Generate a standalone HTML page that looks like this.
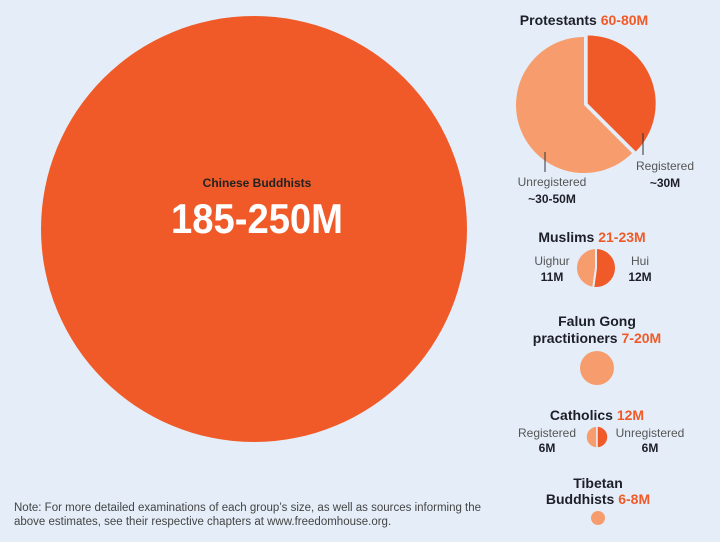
<!DOCTYPE html>
<html><head><meta charset="utf-8">
<style>
html,body{margin:0;padding:0;background:#e5eef8;}
svg{display:block;font-family:"Liberation Sans",sans-serif;}
.t{font-weight:bold;fill:#1e1e28;font-size:14px;}
.n{fill:#f05a28;}
.l{fill:#555;font-size:12px;}
.v{font-weight:bold;fill:#1e1e28;font-size:12px;}
</style></head>
<body>
<svg id="chart" width="720" height="542" viewBox="0 0 720 542" xmlns="http://www.w3.org/2000/svg">
<rect width="720" height="542" fill="#e5eef8"/>
<g id="marks"></g>
<g>
<text x="257" y="187" text-anchor="middle" style="font-weight:bold;font-size:12px;fill:#222">Chinese Buddhists</text>
<text x="257" y="233" text-anchor="middle" textLength="172" lengthAdjust="spacingAndGlyphs" style="font-weight:bold;font-size:42px;fill:#fff">185-250M</text>

<text x="584" y="25" text-anchor="middle" class="t">Protestants <tspan class="n">60-80M</tspan></text>
<line x1="545" y1="152" x2="545" y2="172" stroke="#333" stroke-width="1"/>
<text x="552" y="186" text-anchor="middle" class="l">Unregistered</text>
<text x="552" y="203" text-anchor="middle" class="v">~30-50M</text>
<line x1="643" y1="133" x2="643" y2="155" stroke="#333" stroke-width="1"/>
<text x="665" y="170" text-anchor="middle" class="l">Registered</text>
<text x="665" y="187" text-anchor="middle" class="v">~30M</text>

<text x="592" y="242" text-anchor="middle" class="t">Muslims <tspan class="n">21-23M</tspan></text>
<text x="552" y="265" text-anchor="middle" class="l">Uighur</text>
<text x="552" y="281" text-anchor="middle" class="v">11M</text>
<text x="640" y="265" text-anchor="middle" class="l">Hui</text>
<text x="640" y="281" text-anchor="middle" class="v">12M</text>

<text x="597" y="326" text-anchor="middle" class="t">Falun Gong</text>
<text x="597" y="343" text-anchor="middle" class="t">practitioners <tspan class="n">7-20M</tspan></text>

<text x="597" y="420" text-anchor="middle" class="t">Catholics <tspan class="n">12M</tspan></text>
<text x="547" y="437" text-anchor="middle" class="l">Registered</text>
<text x="547" y="452" text-anchor="middle" class="v">6M</text>
<text x="650" y="437" text-anchor="middle" class="l">Unregistered</text>
<text x="650" y="452" text-anchor="middle" class="v">6M</text>

<text x="598" y="488" text-anchor="middle" class="t">Tibetan</text>
<text x="598" y="504" text-anchor="middle" class="t">Buddhists <tspan class="n">6-8M</tspan></text>

<text x="14" y="511" style="font-size:11.5px;fill:#444">Note: For more detailed examinations of each group’s size, as well as sources informing the</text>
<text x="14" y="525" style="font-size:11.5px;fill:#444">above estimates, see their respective chapters at www.freedomhouse.org.</text>
</g>
</svg>
<script>
// data
const groups = ["Chinese Buddhists","Protestants","Muslims","Falun Gong","Catholics","Tibetan Buddhists"];
const protestantParts = [30, 50];   // registered (dark), unregistered (light)
const muslimParts = [12, 11];       // hui (dark), uighur (light)
const catholicParts = [6, 6];       // unregistered (dark), registered (light)
const singleSizes = [250, 20, 8];   // chinese buddhists, falun gong, tibetan (upper bounds, millions)

const DARK = "#f05a28", LIGHT = "#f79c6d";
const NS = "http://www.w3.org/2000/svg";
const g = document.getElementById("marks");

function pt(cx, cy, r, a){ return [cx + r*Math.sin(a), cy - r*Math.cos(a)]; }
function wedge(cx, cy, r, a0, a1){
  const p0 = pt(cx,cy,r,a0), p1 = pt(cx,cy,r,a1);
  const large = (a1 - a0) > Math.PI ? 1 : 0;
  return `M${cx},${cy}L${p0[0]},${p0[1]}A${r},${r} 0 ${large} 1 ${p1[0]},${p1[1]}Z`;
}
function pie(cx, cy, r, parts, name, explode, gap){
  const total = parts[0] + parts[1];
  const a = 2*Math.PI*parts[0]/total;
  const mid = a/2;
  const dx = explode*Math.sin(mid), dy = -explode*Math.cos(mid);
  const light = document.createElementNS(NS, "path");
  light.setAttribute("d", wedge(cx, cy, r, a, 2*Math.PI));
  light.setAttribute("fill", LIGHT);
  light.setAttribute("stroke", "#e5eef8");
  light.setAttribute("stroke-width", gap);
  
  
  g.appendChild(light);
  const dark = document.createElementNS(NS, "path");
  dark.setAttribute("d", wedge(cx+dx, cy+dy, r, 0, a));
  dark.setAttribute("fill", DARK);
  dark.setAttribute("stroke", "#e5eef8");
  dark.setAttribute("stroke-width", gap);
  
  
  g.appendChild(dark);
}
function circle(cx, cy, r, fill, name){
  const c = document.createElementNS(NS, "circle");
  c.setAttribute("cx", cx); c.setAttribute("cy", cy); c.setAttribute("r", r);
  c.setAttribute("fill", fill);
  
  
  g.appendChild(c);
}
const rScale = v => 213 * Math.sqrt(v / singleSizes[0]);

circle(254, 229, rScale(singleSizes[0]), DARK, "chinese-buddhists-circle");
pie(584, 105, 68, protestantParts, "protestants", 4, 0);
pie(596, 268, 20, muslimParts, "muslims", 0, 2);
circle(597, 368, 17 * Math.sqrt(singleSizes[1]/20), LIGHT, "falun-gong-circle");
pie(597, 437, 11, catholicParts, "catholics", 0, 1.5);
circle(598, 518, 7 * Math.sqrt(singleSizes[2]/8), LIGHT, "tibetan-buddhists-circle");
</script>
</body></html>
